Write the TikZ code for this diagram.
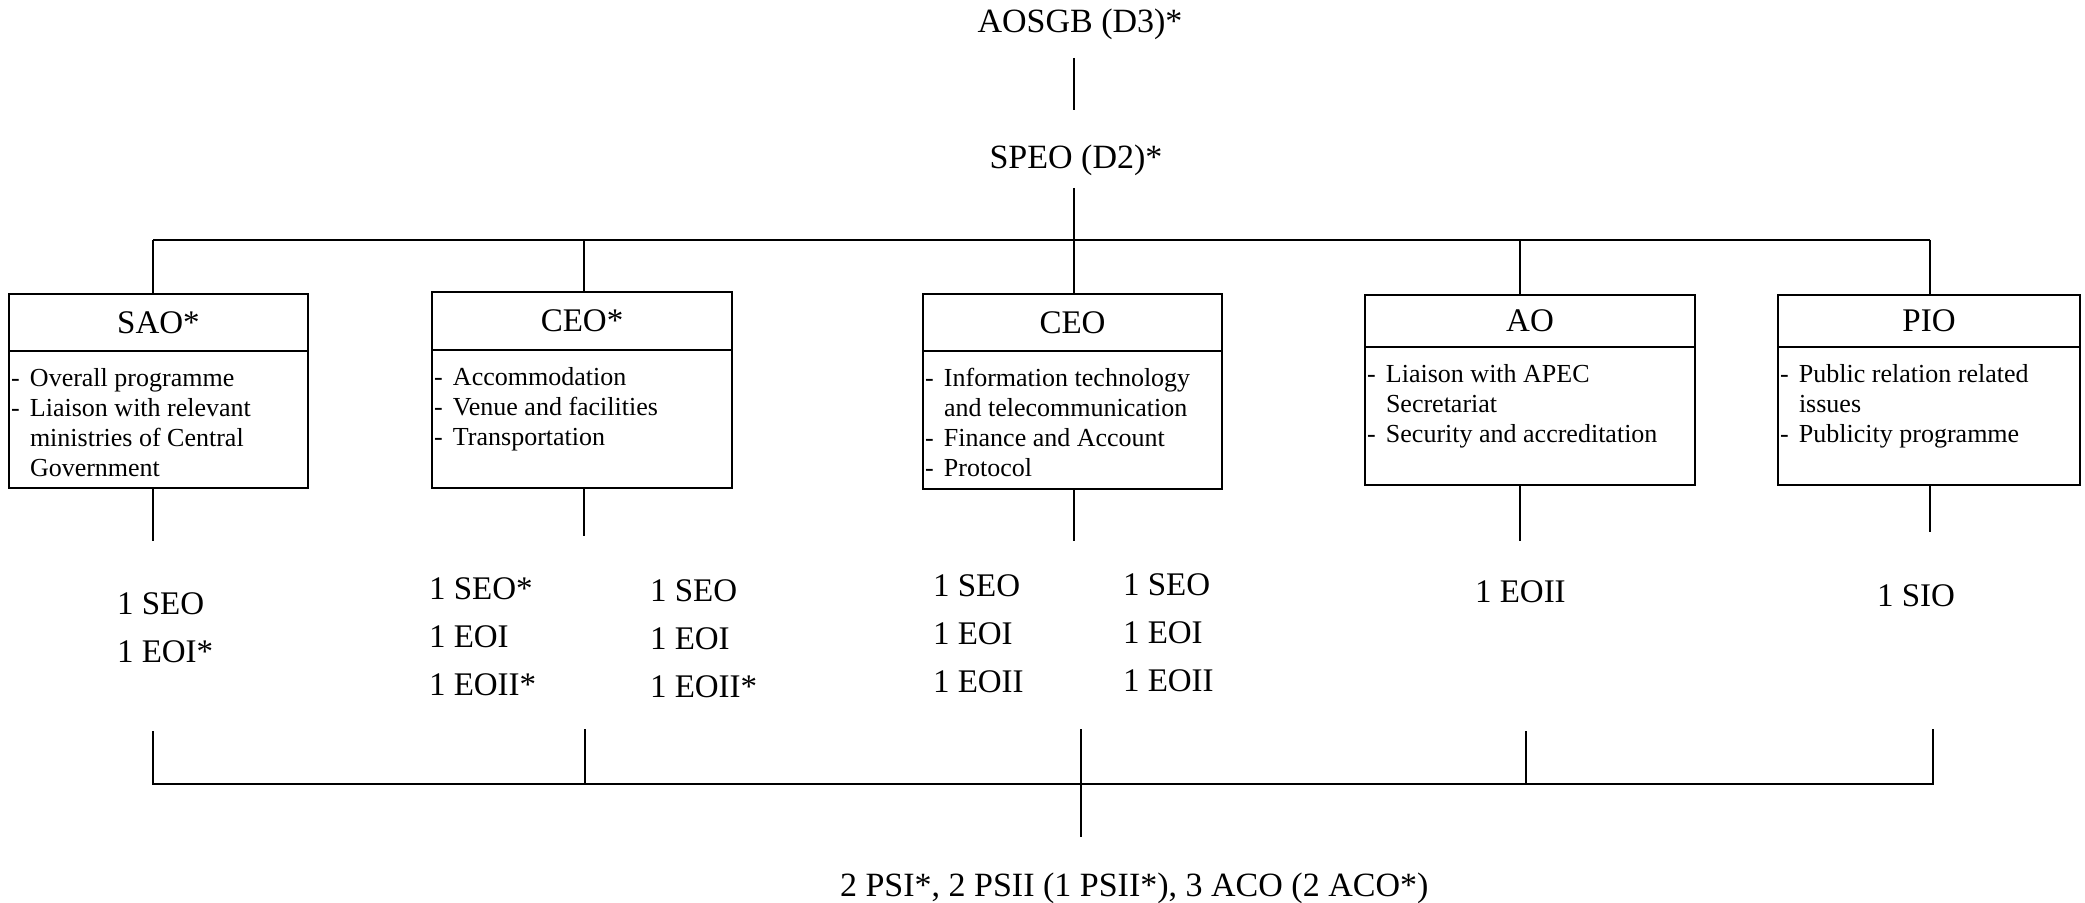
\documentclass[tikz,border=0pt]{standalone}
\usepackage{fontspec}
\setmainfont{Liberation Serif}
\newcommand\dsh{\makebox[9.5pt][l]{-}}
\newcommand\ind{\hspace*{9.5pt}}
\begin{document}
\begin{tikzpicture}[x=0.5pt,y=-0.5pt,line width=1pt,
  hdr/.style={draw,line width=1.2pt,inner sep=0pt,outer sep=0pt,anchor=north west,font=\fontsize{16.5}{20}\selectfont},
  bodybox/.style={draw,line width=1.2pt,inner sep=0pt,outer sep=0pt,anchor=north west},
  items/.style={anchor=base west,inner sep=0pt,font=\fontsize{13}{15}\selectfont},
  staff/.style={anchor=base west,inner sep=0pt,font=\fontsize{16.5}{24}\selectfont},
  toplabel/.style={anchor=base,inner sep=0pt,font=\fontsize{17}{20}\selectfont}]
\useasboundingbox (0,0) rectangle (2085,903);

% top labels
\node[toplabel] (aosgb) at (1080,33) {AOSGB (D3)*};
\node[toplabel] (speo) at (1076,169) {SPEO (D2)*};

% boxes
\node[hdr,minimum width=149.5pt,minimum height=28.5pt] (sao) at (9,294) {SAO*};
\node[bodybox,minimum width=149.5pt,minimum height=68.5pt] (saob) at (9,351) {};
\node[items] (saot) at (10,387) {\parbox[t]{150pt}{\dsh Overall programme\\\dsh Liaison with relevant\\\ind ministries of Central\\\ind Government}};

\node[hdr,minimum width=150pt,minimum height=29pt] (ceoa) at (432,292) {CEO*};
\node[bodybox,minimum width=150pt,minimum height=69pt] (ceoab) at (432,350) {};
\node[items] (ceoat) at (433,386) {\parbox[t]{150pt}{\dsh Accommodation\\\dsh Venue and facilities\\\dsh Transportation}};

\node[hdr,minimum width=149.5pt,minimum height=28.5pt] (ceo) at (923,294) {CEO};
\node[bodybox,minimum width=149.5pt,minimum height=69pt] (ceob) at (923,351) {};
\node[items] (ceot) at (924,387) {\parbox[t]{150pt}{\dsh Information technology\\\ind and telecommunication\\\dsh Finance and Account\\\dsh Protocol}};

\node[hdr,minimum width=165pt,minimum height=26pt] (ao) at (1365,295) {AO};
\node[bodybox,minimum width=165pt,minimum height=69pt] (aob) at (1365,347) {};
\node[items] (aot) at (1366,383) {\parbox[t]{165pt}{\dsh Liaison with APEC\\\ind Secretariat\\\dsh Security and accreditation}};

\node[hdr,minimum width=151pt,minimum height=26pt] (pio) at (1778,295) {PIO};
\node[bodybox,minimum width=151pt,minimum height=69pt] (piob) at (1778,347) {};
\node[items] (piot) at (1779,383) {\parbox[t]{150pt}{\dsh Public relation related\\\ind issues\\\dsh Publicity programme}};

% staff lists
\node[staff] (s1) at (116,615) {\parbox[t]{80pt}{1 SEO\\1 EOI*}};
\node[staff] (s2) at (428,600) {\parbox[t]{80pt}{1 SEO*\\1 EOI\\1 EOII*}};
\node[staff] (s3) at (649,602) {\parbox[t]{80pt}{1 SEO\\1 EOI\\1 EOII*}};
\node[staff] (s4) at (932,597) {\parbox[t]{80pt}{1 SEO\\1 EOI\\1 EOII}};
\node[staff] (s5) at (1122,596) {\parbox[t]{80pt}{1 SEO\\1 EOI\\1 EOII}};
\node[staff] (s6) at (1474,603) {1 EOII};
\node[staff] (s7) at (1876,607) {1 SIO};

\node[anchor=base west,inner sep=0pt,font=\fontsize{17}{20}\selectfont] (support) at (839,896) {2 PSI*, 2 PSII (1 PSII*), 3 ACO (2 ACO*)};

% top connectors
\coordinate (v1) at (1074,58);
\coordinate (v2) at (1074,110);
\coordinate (v3) at (1074,188);
\draw (v1) -- (v2);
\draw (v3) -- (v3 |- ceo.north);
\coordinate (t1) at (153,240);
\coordinate (t2) at (584,240);
\coordinate (t4) at (1520,240);
\coordinate (t5) at (1930,240);
\draw (t1) -- (t5);
\draw (t1) -- (t1 |- sao.north);
\draw (t2) -- (t2 |- ceoa.north);
\draw (t4) -- (t4 |- ao.north);
\draw (t5) -- (t5 |- pio.north);

% ticks below boxes
\coordinate (l1) at (153,541);
\coordinate (l2) at (584,536);
\coordinate (l3) at (1074,541);
\coordinate (l4) at (1520,541);
\coordinate (l5) at (1930,532);
\draw (l1 |- saob.south) -- (l1);
\draw (l2 |- ceoab.south) -- (l2);
\draw (l3 |- ceob.south) -- (l3);
\draw (l4 |- aob.south) -- (l4);
\draw (l5 |- piob.south) -- (l5);

% bottom bus
\coordinate (m1) at (153,731);
\coordinate (m2) at (585,729);
\coordinate (m3) at (1081,729);
\coordinate (m4) at (1526,731);
\coordinate (m5) at (1933,729);
\coordinate (b1) at (153,784);
\coordinate (b5) at (1933,784);
\coordinate (m3b) at (1081,837);
\draw (m1) -- (b1) -- (b5) -- (m5);
\draw (m2) -- (m2 |- b1);
\draw (m4) -- (m4 |- b1);
\draw (m3) -- (m3b);
\end{tikzpicture}
\end{document}
